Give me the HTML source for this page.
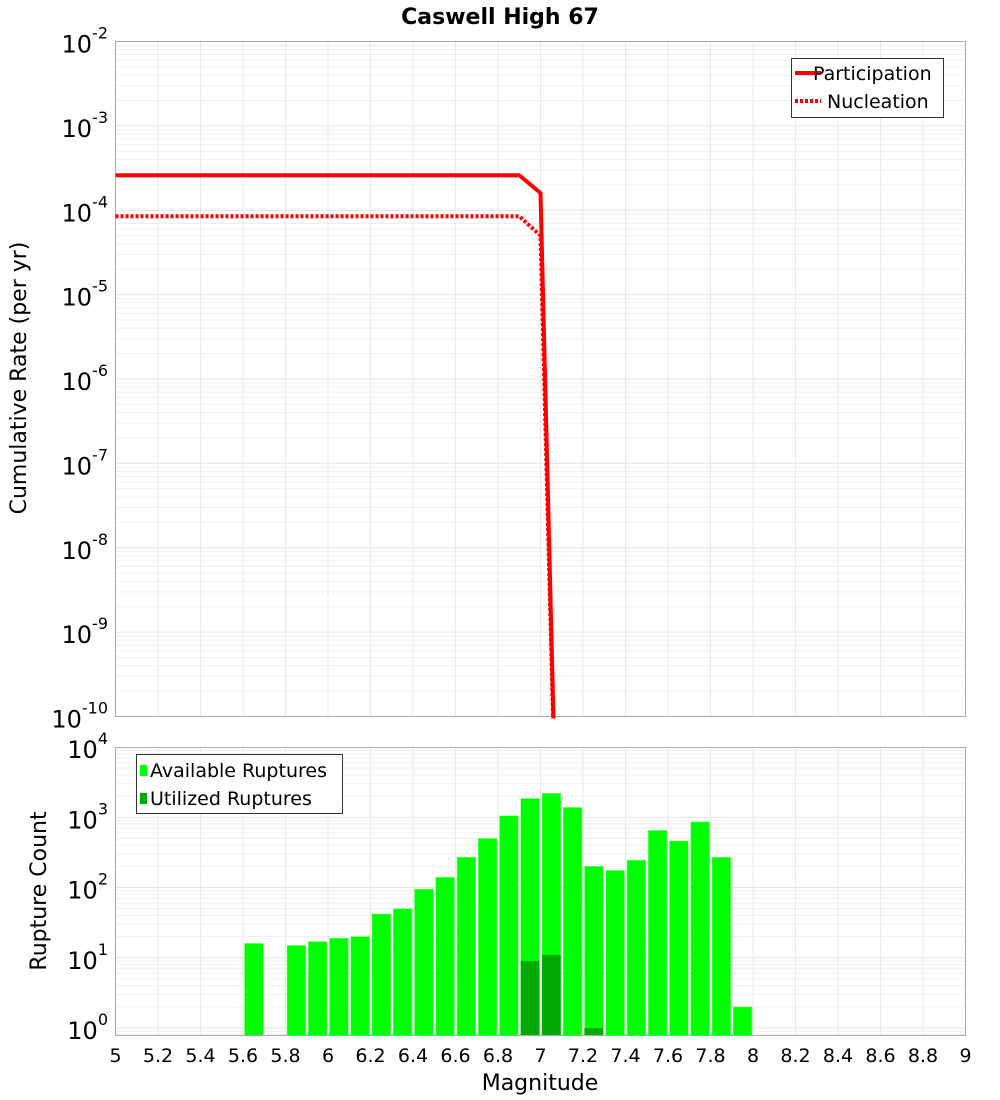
<!DOCTYPE html>
<html><head><meta charset="utf-8"><style>
body{margin:0;background:#fff;}
svg{display:block;font-family:"DejaVu Sans","Liberation Sans",sans-serif;}
</style></head><body>
<svg id="chart" width="1000" height="1100" xmlns="http://www.w3.org/2000/svg">
<text x="500" y="24" text-anchor="middle" font-size="22" font-weight="bold">Caswell High 67</text>
<g id="topg"></g>
<g id="botg"></g>
<text transform="translate(26,378) rotate(-90)" text-anchor="middle" font-size="22">Cumulative Rate (per yr)</text>
<text transform="translate(46,891) rotate(-90)" text-anchor="middle" font-size="22">Rupture Count</text>
<text x="540" y="1090" text-anchor="middle" font-size="22">Magnitude</text>
</svg>
<script>
const partMags=[5.0,6.9,7.0,7.1];
const partRates=[2.6e-4,2.6e-4,1.6e-4,1e-14];
const nuclMags=[5.0,6.9,7.0,7.1];
const nuclRates=[8.5e-5,8.5e-5,5e-5,1e-14];
const binStarts=[5.6,5.8,5.9,6.0,6.1,6.2,6.3,6.4,6.5,6.6,6.7,6.8,6.9,7.0,7.1,7.2,7.3,7.4,7.5,7.6,7.7,7.8,7.9];
const availCounts=[16,15,17,19,20,42,50,95,140,270,500,1050,1850,2200,1380,200,175,245,650,460,860,270,2];
const utilStarts=[6.9,7.0,7.2];
const utilCounts=[9,11,1];
const xTicks=[5,5.2,5.4,5.6,5.8,6,6.2,6.4,6.6,6.8,7,7.2,7.4,7.6,7.8,8,8.2,8.4,8.6,8.8,9];
const topExps=[-2,-3,-4,-5,-6,-7,-8,-9,-10];
const botExps=[4,3,2,1,0];

const NS="http://www.w3.org/2000/svg";
const L=115.5,R=965.5;
const X=m=>L+(m-5)/4*(R-L);
const T0=41.5,T1=716.5;
const YT=v=>T0+(-2-Math.log10(v))*(T1-T0)/8;
const B0=747.5,B1=1035.5,BD=70.25,B10=1028;
const YB=v=>Math.min(B1,B10-Math.log10(v)*BD);
function mk(p,tag,a){const e=document.createElementNS(NS,tag);for(const k in a)e.setAttribute(k,a[k]);p.appendChild(e);return e;}
const topG=document.getElementById('topg'),botG=document.getElementById('botg');

for(let d=-10;d<-2;d++)for(let k=1;k<10;k++){const y=YT(k*Math.pow(10,d));
 const g=mk(topG,'line',{x1:L,x2:R,y1:y,y2:y,stroke:k==1?'#e4e4e4':'#efefef','stroke-width':1});
 }
xTicks.forEach(t=>{const g=mk(topG,'line',{x1:X(t),x2:X(t),y1:T0,y2:T1,stroke:'#e8e8e8'});
 });
const fr=mk(topG,'rect',{x:L,y:T0,width:R-L,height:T1-T0,fill:'none',stroke:'#aaa'});

topExps.forEach(e=>{const y=YT(Math.pow(10,e));
 const t=mk(topG,'text',{x:108,y:y+11,'text-anchor':'end','font-size':24});
 
 t.innerHTML='10<tspan dy="-14" font-size="16">'+e+'</tspan>';});
const defsEl=mk(document.getElementById('chart'),'defs',{});
const cp=mk(defsEl,'clipPath',{id:'tc'});mk(cp,'rect',{x:L,y:T0,width:R-L,height:T1-T0+2});
function line(ms,vs,dash,name){const pts=ms.map((m,i)=>X(m)+','+YT(vs[i])).join(' ');
 const p=mk(topG,'polyline',{points:pts,fill:'none',stroke:'#ff0000','stroke-width':4,'clip-path':'url(#tc)'});
 if(dash)p.setAttribute('stroke-dasharray','3,2');
 }
line(nuclMags,nuclRates,true,'nucleation-line');
line(partMags,partRates,false,'participation-line');
const lg=mk(topG,'g',{});
mk(lg,'rect',{x:791.5,y:58.5,width:152,height:59,fill:'#fff',stroke:'#333'});
mk(lg,'line',{x1:795,x2:821,y1:73,y2:73,stroke:'#f00','stroke-width':4});
mk(lg,'line',{x1:795,x2:821,y1:101,y2:101,stroke:'#f00','stroke-width':4,'stroke-dasharray':'3,2'});
const l1=mk(lg,'text',{x:813,y:80,'font-size':19});l1.textContent='Participation';

const l2=mk(lg,'text',{x:827,y:108,'font-size':19});l2.textContent='Nucleation';


for(let d=-1;d<4;d++)for(let k=1;k<10;k++){const y=B10-Math.log10(k*Math.pow(10,d))*BD;if(y<B0||y>B1)continue;
 const g=mk(botG,'line',{x1:L,x2:R,y1:y,y2:y,stroke:k==1?'#e4e4e4':'#efefef'});
 }
xTicks.forEach(t=>{const g=mk(botG,'line',{x1:X(t),x2:X(t),y1:B0,y2:B1,stroke:'#e8e8e8'});
 });
binStarts.forEach((m,i)=>{const y=YB(availCounts[i]);
 const r=mk(botG,'rect',{x:X(m)+1.5,y:y,width:X(m+0.1)-X(m)-2.5,height:B1-y,fill:'#00ff00',stroke:'#7dff7d','stroke-width':0.6});
 });
utilStarts.forEach((m,i)=>{const y=YB(utilCounts[i]);
 const r=mk(botG,'rect',{x:X(m)+1.5,y:y,width:X(m+0.1)-X(m)-2.5,height:B1-y,fill:'#00aa00'});
 });
const fb=mk(botG,'rect',{x:L,y:B0,width:R-L,height:B1-B0,fill:'none',stroke:'#aaa'});

botExps.forEach(e=>{const y=B10-e*BD;
 const t=mk(botG,'text',{x:108,y:y+11,'text-anchor':'end','font-size':24});
 
 t.innerHTML='10<tspan dy="-14" font-size="16">'+e+'</tspan>';});
xTicks.forEach(t=>{const e=mk(botG,'text',{x:X(t),y:1062,'text-anchor':'middle','font-size':19});
 e.textContent=String(t);
 });
const bl=mk(botG,'g',{});
mk(bl,'rect',{x:136.5,y:754.5,width:206,height:59,fill:'#fff',stroke:'#333'});
mk(bl,'rect',{x:140,y:765,width:7,height:11,fill:'#00ff00'});
mk(bl,'rect',{x:140,y:793,width:7,height:11,fill:'#00aa00'});
const b1=mk(bl,'text',{x:150,y:777,'font-size':19});b1.textContent='Available Ruptures';

const b2=mk(bl,'text',{x:150,y:805,'font-size':19});b2.textContent='Utilized Ruptures';

</script>
</body></html>
